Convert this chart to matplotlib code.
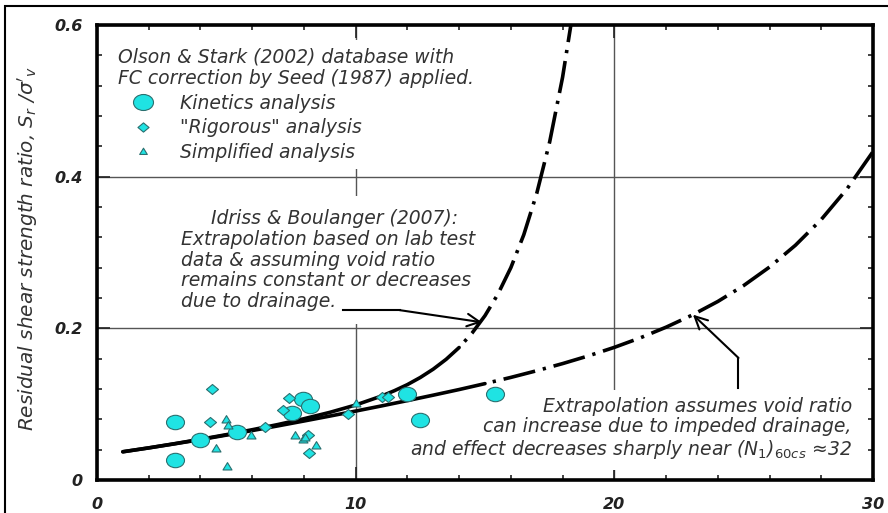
import numpy as np
import matplotlib.pyplot as plt
from matplotlib.path import Path
from matplotlib.transforms import Affine2D
from matplotlib.lines import Line2D
from matplotlib.patches import Rectangle

# case histories
kin_x = [3.0, 3.0, 4.0, 5.4, 7.55, 7.97, 8.25, 12.0, 12.5, 15.4]
kin_y = [0.077, 0.027, 0.053, 0.063, 0.088, 0.107, 0.098, 0.113, 0.079, 0.113]

rig_x = [4.43, 4.37, 6.5, 7.43, 7.2, 8.17, 8.2, 9.7, 11.0, 11.25]
rig_y = [0.120, 0.076, 0.070, 0.108, 0.092, 0.060, 0.035, 0.087, 0.110, 0.109]

simp_x = [4.97, 5.05, 4.59, 5.01, 5.97, 7.65, 7.95, 8.05, 8.45, 10.0]
simp_y = [0.081, 0.072, 0.042, 0.019, 0.060, 0.059, 0.054, 0.057, 0.046, 0.102]

# Idriss & Boulanger (2007) curves
upper_x = [1, 2, 3, 4, 5, 6, 7, 8, 9, 10, 11, 11.5, 12, 12.5, 13, 13.5, 14]
upper_y = [0.0373, 0.0424, 0.0479, 0.0537, 0.0598, 0.0663, 0.0732, 0.0808, 0.0892,
           0.0989, 0.1107, 0.1178, 0.1258, 0.1352, 0.1462, 0.1592, 0.1747]
upper_ext_x = [14, 14.5, 15, 15.5, 16, 16.5, 17, 17.5, 18, 18.5]
upper_ext_y = [0.1747, 0.1937, 0.2167, 0.2451, 0.2800, 0.3234, 0.3778, 0.4457, 0.5311, 0.6386]

lower_x = [1, 2, 3, 4, 5, 6, 7, 8, 9, 10, 11, 12, 13, 14, 15]
lower_y = [0.0372, 0.0423, 0.0477, 0.0533, 0.0592, 0.0652, 0.0714, 0.0778, 0.0843,
           0.0909, 0.0977, 0.1047, 0.1119, 0.1193, 0.1271]
lower_ext_x = [15, 16, 17, 18, 19, 20, 21, 22, 23, 24, 25, 26, 27, 28, 29, 30]
lower_ext_y = [0.1271, 0.1353, 0.1441, 0.1535, 0.1637, 0.1749, 0.1874, 0.2015, 0.2173,
               0.2354, 0.2564, 0.2808, 0.3095, 0.3435, 0.3841, 0.4330]

arrow1_x = [9.5, 11.7, 14.88]
arrow1_y = [0.224, 0.224, 0.208]
arrow2_x = [24.8, 24.8, 23.04]
arrow2_y = [0.121, 0.161, 0.218]

xticks = [0, 10, 20, 30]
xlabels = ['0', '10', '20', '30']
yticks = [0, 0.2, 0.4, 0.6]
ylabels = ['0', '0.2', '0.4', '0.6']

fill = '#1fe3e3'
edge = '#2a6f6f'
txtc = '#333333'

ellipse = Path.unit_circle().transformed(Affine2D().scale(1.25, 1.0))
diamond = Path([(0, 1), (1.2, 0), (0, -1), (-1.2, 0), (0, 1)], closed=True)
triangle = Path([(-1.1, -0.85), (1.1, -0.85), (0, 0.95), (-1.1, -0.85)], closed=True)

fig = plt.figure(figsize=(8.88, 5.13), dpi=100)
ax = fig.add_axes([0.1092, 0.0643, 0.8739, 0.887])

dd = (0, (9, 2.2, 0.9, 2.2))
dd_off = (9, (9, 2.2, 0.9, 2.2))
ax.plot(upper_x, upper_y, 'k', lw=2.6, solid_capstyle='round', zorder=2)
ax.plot(lower_x, lower_y, 'k', lw=2.6, solid_capstyle='round', zorder=2)
ax.plot(upper_ext_x, upper_ext_y, color='k', lw=2.6, linestyle=dd_off, zorder=2)
ax.plot(lower_ext_x, lower_ext_y, color='k', lw=2.6, linestyle=dd_off, zorder=2)

ax.scatter(kin_x, kin_y, s=168, marker=ellipse, c=fill, edgecolors=edge, linewidths=0.8, zorder=4)
ax.scatter(rig_x, rig_y, s=75, marker=diamond, c=fill, edgecolors=edge, linewidths=0.8, zorder=4)
ax.scatter(simp_x, simp_y, s=42, marker=triangle, c=fill, edgecolors=edge, linewidths=0.8, zorder=4)

# annotation leaders
ax.plot(arrow1_x[:2], arrow1_y[:2], 'k', lw=1.5, zorder=3)
ax.annotate('', xy=(arrow1_x[2], arrow1_y[2]), xytext=(arrow1_x[1], arrow1_y[1]),
            arrowprops=dict(arrowstyle='->,head_length=0.9,head_width=0.45', lw=1.5,
                            color='k', shrinkA=0, shrinkB=0, mutation_scale=10), zorder=3)
ax.plot(arrow2_x[:2], arrow2_y[:2], 'k', lw=1.5, zorder=3)
ax.annotate('', xy=(arrow2_x[2], arrow2_y[2]), xytext=(arrow2_x[1], arrow2_y[1]),
            arrowprops=dict(arrowstyle='->,head_length=0.9,head_width=0.45', lw=1.5,
                            color='k', shrinkA=0, shrinkB=0, mutation_scale=10), zorder=3)

ax.text(3.25, 0.290,
        "     Idriss & Boulanger (2007):\nExtrapolation based on lab test\n"
        "data & assuming void ratio\nremains constant or decreases\ndue to drainage.",
        fontsize=13.5, style='italic', color=txtc, ha='left', va='center', linespacing=1.12,
        bbox=dict(fc='white', ec='none', pad=9), zorder=1.8)
ax.text(29.18, 0.0673,
        "Extrapolation assumes void ratio\ncan increase due to impeded drainage,\n"
        "and effect decreases sharply near (N$_\\mathit{1}$)$_\\mathit{60cs}$ \u224832",
        fontsize=13.5, style='italic', color=txtc, ha='right', va='center',
        multialignment='right', linespacing=1.12,
        bbox=dict(fc='white', ec='none', pad=6), zorder=1.8)

handles = [
    Line2D([], [], ls='none', marker=ellipse, ms=14.4, mfc=fill, mec=edge, mew=0.8),
    Line2D([], [], ls='none', marker=diamond, ms=8, mfc=fill, mec=edge, mew=0.8),
    Line2D([], [], ls='none', marker=triangle, ms=5.5, mfc=fill, mec=edge, mew=0.8),
]
labels = ['Kinetics analysis', '"Rigorous" analysis', 'Simplified analysis']
leg = ax.legend(handles, labels, loc='upper left', bbox_to_anchor=(0.0174, 0.968),
                borderaxespad=0, borderpad=0.4, handlelength=2.7, handletextpad=0.6,
                labelspacing=0.3, alignment='left', frameon=True, fancybox=False,
                facecolor='white', edgecolor='none', framealpha=1,
                title="Olson & Stark (2002) database with\nFC correction by Seed (1987) applied.",
                prop=dict(size=13.5, style='italic'),
                title_fontproperties=dict(size=13.5, style='italic'))
for t in leg.get_texts():
    t.set_color(txtc)
leg.get_title().set_color(txtc)

ax.set_xlim(0, 30)
ax.set_ylim(0, 0.6)
ax.set_xticks(xticks)
ax.set_xticklabels(xlabels)
ax.set_yticks(yticks)
ax.set_yticklabels(ylabels)
ax.set_xticks(list(range(0, 31, 2)), minor=True)
ax.set_yticks([i * 0.04 for i in range(16)], minor=True)
ax.tick_params(which='both', direction='in', top=True, right=True, width=1.2, color='#222222')
ax.tick_params(which='major', length=9.4)
ax.tick_params(which='minor', length=3.6)
ax.tick_params(axis='x', pad=12)
ax.tick_params(axis='y', pad=10.5)
for lab in ax.get_xticklabels() + ax.get_yticklabels():
    lab.set_fontsize(11.5)
    lab.set_fontweight('bold')
    lab.set_fontstyle('italic')
    lab.set_color('#222222')
ax.grid(True, which='major', color='#555555', lw=1.0)
for s in ax.spines.values():
    s.set_linewidth(2.6)

ax.set_ylabel("Residual shear strength ratio, S$_\\mathit{r}$ /$\\sigma'_\\mathit{v}$",
              fontsize=14.4, style='italic', color=txtc)
ax.yaxis.set_label_coords(-0.0735, 0.508)

fig.add_artist(Rectangle((5 / 888, -0.05), 1.2, 1.05 - 6 / 513, transform=fig.transFigure,
                         fill=False, lw=1.5, ec='k'))

fig.savefig('out.png', dpi=100)
